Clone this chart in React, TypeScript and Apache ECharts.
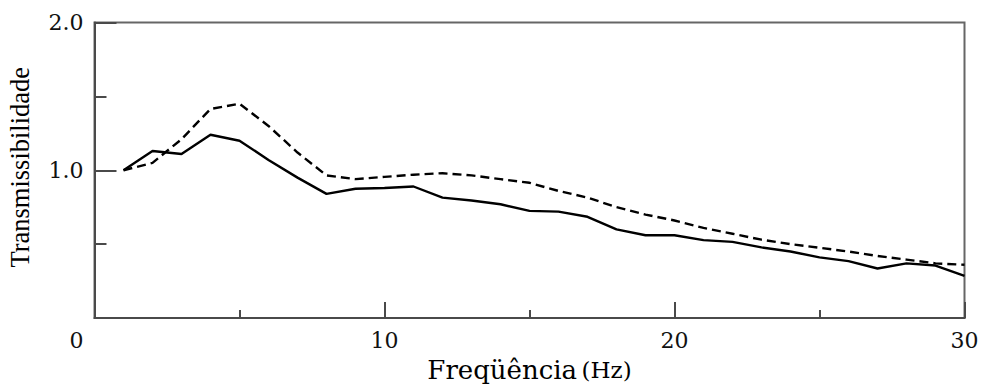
import React, { useEffect, useRef } from "react";
import * as echarts from "echarts";

const freqs = [1, 2, 3, 4, 5, 6, 7, 8, 9, 10, 11, 12, 13, 14, 15, 16, 17, 18, 19, 20, 21, 22, 23, 24, 25, 26, 27, 28, 29, 30];
const solidSeries = [1.0, 1.13, 1.11, 1.24, 1.2, 1.07, 0.95, 0.84, 0.875, 0.88, 0.89, 0.815, 0.795, 0.77, 0.725, 0.72, 0.685, 0.6, 0.56, 0.56, 0.527, 0.515, 0.478, 0.45, 0.41, 0.385, 0.335, 0.37, 0.355, 0.285];
const dashedSeries = [1.0, 1.05, 1.21, 1.415, 1.45, 1.3, 1.12, 0.965, 0.94, 0.955, 0.97, 0.98, 0.965, 0.94, 0.915, 0.86, 0.815, 0.75, 0.7, 0.66, 0.61, 0.57, 0.53, 0.5, 0.475, 0.45, 0.42, 0.395, 0.37, 0.36];
const yTickLabels = ["1.0", "2.0"];
const xTitle = "Freqüência";
const xUnit = "(Hz)";
const yTitle = "Transmissibilidade";

const AXIS_COLOR = "#4a4a4a";
const TICK_FONT = "DejaVu Serif";

export default function App() {
  const ref = useRef<HTMLDivElement>(null);
  useEffect(() => {
    if (!ref.current) return;
    const chart = echarts.init(ref.current, null, { renderer: "svg" });
    const solidData = freqs.map((f, i) => [f, solidSeries[i]]);
    const dashedData = freqs.map((f, i) => [f, dashedSeries[i]]);
    chart.setOption({
      animation: false,
      backgroundColor: "#fff",
      grid: {
        left: 94.5,
        right: 18.5,
        top: 22.5,
        bottom: 71,
        outerBoundsMode: "none",
        containLabel: false,
        show: true,
        borderColor: "#666",
        borderWidth: 2,
        backgroundColor: "transparent",
      },
      xAxis: {
        type: "value",
        min: 0,
        max: 30,
        interval: 10,
        name: `{a|${xTitle}}{s| }{b|${xUnit}}`,
        nameLocation: "middle",
        nameGap: 39,
        nameTextStyle: {
          rich: {
            a: { fontFamily: TICK_FONT, fontSize: 26, color: "#000" },
            s: { fontFamily: TICK_FONT, fontSize: 14, color: "#000" },
            b: { fontFamily: TICK_FONT, fontSize: 23, color: "#000" },
          },
        },
        axisLine: { show: true, lineStyle: { color: AXIS_COLOR, width: 2 } },
        axisTick: { show: true, inside: true, length: 16, lineStyle: { color: AXIS_COLOR, width: 2 } },
        minorTick: { show: true, splitNumber: 2, length: 8, lineStyle: { color: AXIS_COLOR, width: 2 } },
        splitLine: { show: false },
        axisLabel: {
          margin: 11,
          fontFamily: TICK_FONT,
          fontSize: 22,
          color: "#111",
          formatter: (v: number) => (v === 0 ? "{z|0}" : String(v)),
          rich: {
            z: { fontFamily: TICK_FONT, fontSize: 22, color: "#111", padding: [0, 36, 0, 0] },
          },
        },
      },
      yAxis: {
        type: "value",
        min: 0,
        max: 2,
        interval: 1,
        name: yTitle,
        nameLocation: "middle",
        nameRotate: 90,
        nameGap: 61,
        nameTextStyle: { fontFamily: "Liberation Serif", fontSize: 26.5, color: "#000", padding: [0, 0, 0, 6] },
        axisLine: { show: true, lineStyle: { color: AXIS_COLOR, width: 2 } },
        axisTick: { show: true, inside: true, length: 22, lineStyle: { color: AXIS_COLOR, width: 2 } },
        minorTick: { show: true, splitNumber: 2, length: 12, lineStyle: { color: AXIS_COLOR, width: 2 } },
        splitLine: { show: false },
        axisLabel: {
          margin: 11,
          fontFamily: TICK_FONT,
          fontSize: 22,
          color: "#111",
          formatter: (v: number) => {
            const s = v.toFixed(1);
            return yTickLabels.includes(s) ? s : "";
          },
        },
      },
      series: [
        {
          name: "solid",
          type: "line",
          data: solidData,
          showSymbol: false,
          symbol: "none",
          lineStyle: { color: "#000", width: 2.4, type: "solid" },
        },
        {
          name: "dashed",
          type: "line",
          data: dashedData,
          showSymbol: false,
          symbol: "none",
          lineStyle: { color: "#000", width: 2.4, type: [9, 5] },
        },
      ],
    });
    return () => chart.dispose();
  }, []);
  return (
    <div
      ref={ref}
      style={{ position: "fixed", left: 0, top: 0, width: 983, height: 389, background: "#fff" }}
    />
  );
}
